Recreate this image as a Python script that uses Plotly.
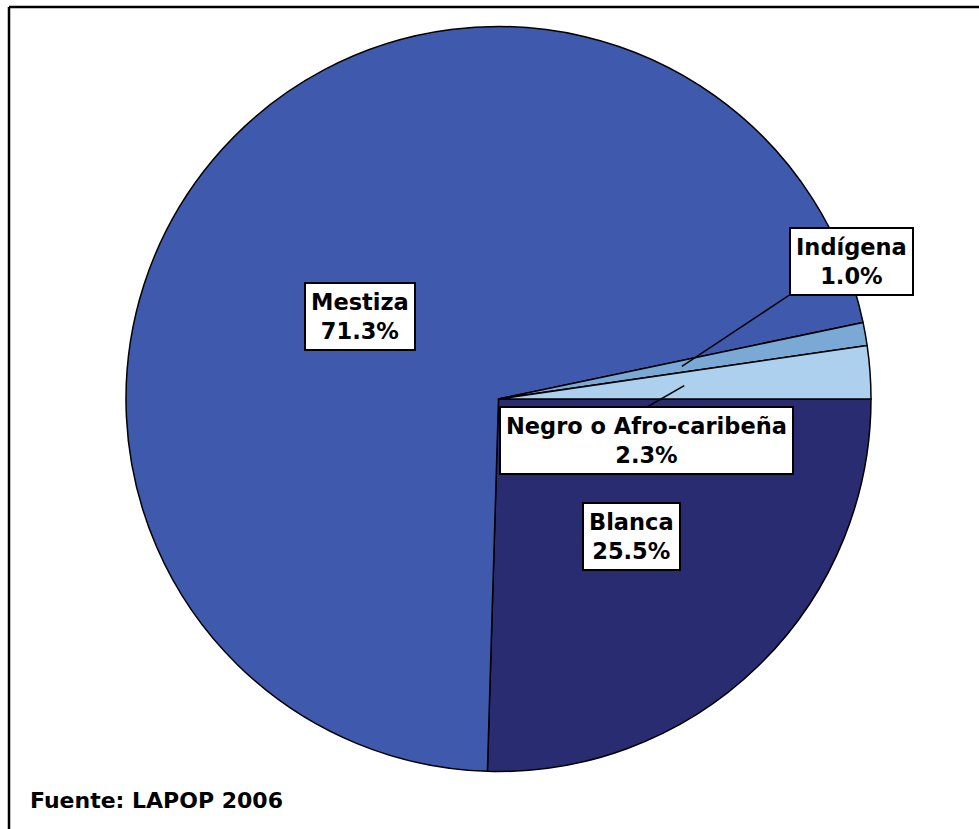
import math
import plotly.graph_objects as go

# ---- data ----
labels = ["Blanca", "Mestiza", "Indígena", "Negro o Afro-caribeña"]
values = [25.5, 71.3, 1.0, 2.3]
colors = ["#2A2C72", "#3F5AAD", "#7BA9D6", "#ADD0EE"]
source_text = "Fuente: LAPOP 2006"

W, H = 979, 829
CX, CY, R = 498.5, 399.0, 372.5  # pie centre / radius in pixels


def px(x):
    return x / W


def py(y):
    return 1 - y / H


fig = go.Figure(go.Pie(
    labels=labels,
    values=values,
    sort=False,
    direction="clockwise",
    rotation=90,
    marker=dict(colors=colors, line=dict(color="black", width=1.5)),
    textinfo="none",
    hoverinfo="label+percent",
    showlegend=False,
    domain=dict(x=[px(CX - R), px(CX + R)], y=[py(CY + R), py(CY - R)]),
))

# label boxes: (centre x px, centre y px, leader-line end px or None)
label_pos = {
    "Blanca": (631, 536, None),
    "Mestiza": (360, 317, None),
    "Indígena": (851, 261, (791, 294)),
    "Negro o Afro-caribeña": (646, 440, (647, 407)),
}

total = sum(values)
cum = 0.0
annotations = []
shapes = []
for lab, val in zip(labels, values):
    mid = (cum + val / 2) / total * 360.0  # clockwise from 3 o'clock
    cum += val
    bx, by, lend = label_pos[lab]
    if lend is not None:
        th = math.radians(mid)
        tx = CX + 0.5 * R * math.cos(th)
        ty = CY + 0.5 * R * math.sin(th)
        shapes.append(dict(type="line", xref="paper", yref="paper",
                           x0=px(tx), y0=py(ty), x1=px(lend[0]), y1=py(lend[1]),
                           line=dict(color="black", width=1.5)))
    annotations.append(dict(
        x=px(bx), y=py(by), xref="paper", yref="paper",
        xanchor="center", yanchor="middle",
        text=f"{lab}<br>{val:.1f}%", showarrow=False,
        font=dict(family="DejaVu Sans", size=22.5, color="black", weight="bold"),
        bgcolor="white", bordercolor="black", borderwidth=2, borderpad=5,
        align="center",
    ))

annotations.append(dict(
    x=px(28), y=py(800), xref="paper", yref="paper", xanchor="left", yanchor="middle",
    text=source_text, showarrow=False,
    font=dict(family="DejaVu Sans", size=22, color="black", weight="bold"),
))

# outer frame (top and left edges visible)
shapes.append(dict(type="line", xref="paper", yref="paper",
                   x0=px(9), y0=py(7), x1=1.0, y1=py(7), line=dict(color="black", width=2.5)))
shapes.append(dict(type="line", xref="paper", yref="paper",
                   x0=px(9), y0=py(7), x1=px(9), y1=0.0, line=dict(color="black", width=2.5)))

fig.update_layout(
    width=W, height=H,
    margin=dict(l=0, r=0, t=0, b=0),
    paper_bgcolor="white",
    plot_bgcolor="white",
    annotations=annotations,
    shapes=shapes,
)

fig.write_html("out.html",
               config={"displayModeBar": False},
               post_script="document.body.style.margin='0';document.body.style.overflow='hidden';")
